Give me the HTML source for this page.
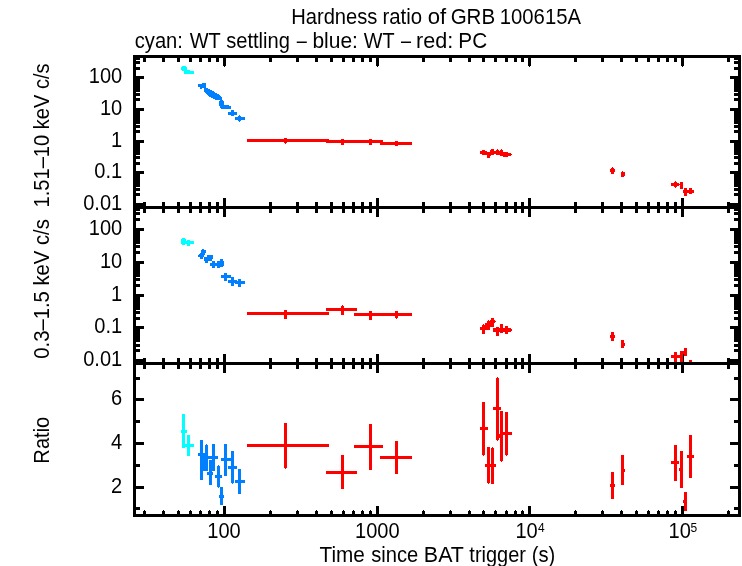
<!DOCTYPE html>
<html><head><meta charset="utf-8"><title>Hardness ratio of GRB 100615A</title>
<style>html,body{margin:0;padding:0;background:#fff}svg{display:block}text{font-family:"Liberation Sans",sans-serif;fill:#000}</style>
</head><body>
<svg width="742" height="566" viewBox="0 0 742 566">
<rect width="742" height="566" fill="#fff"/>
<g fill="#000" shape-rendering="crispEdges">
<rect x="133" y="55" width="3" height="462"/>
<rect x="738" y="55" width="3" height="462"/>
<rect x="133" y="55" width="608" height="3"/>
<rect x="133" y="206" width="608" height="3"/>
<rect x="133" y="362" width="608" height="3"/>
<rect x="133" y="514" width="608" height="3"/>
<rect x="143" y="58" width="3" height="4"/>
<rect x="143" y="202" width="3" height="11"/>
<rect x="143" y="358" width="3" height="11"/>
<rect x="143" y="511" width="3" height="3"/>
<rect x="144" y="510" width="1" height="1"/>
<rect x="162" y="58" width="3" height="4"/>
<rect x="162" y="202" width="3" height="11"/>
<rect x="162" y="358" width="3" height="11"/>
<rect x="162" y="511" width="3" height="3"/>
<rect x="163" y="510" width="1" height="1"/>
<rect x="177" y="58" width="3" height="4"/>
<rect x="177" y="202" width="3" height="11"/>
<rect x="177" y="358" width="3" height="11"/>
<rect x="177" y="511" width="3" height="3"/>
<rect x="178" y="510" width="1" height="1"/>
<rect x="189" y="58" width="3" height="4"/>
<rect x="189" y="202" width="3" height="11"/>
<rect x="189" y="358" width="3" height="11"/>
<rect x="189" y="511" width="3" height="3"/>
<rect x="190" y="510" width="1" height="1"/>
<rect x="199" y="58" width="3" height="4"/>
<rect x="199" y="202" width="3" height="11"/>
<rect x="199" y="358" width="3" height="11"/>
<rect x="199" y="511" width="3" height="3"/>
<rect x="200" y="510" width="1" height="1"/>
<rect x="208" y="58" width="3" height="4"/>
<rect x="208" y="202" width="3" height="11"/>
<rect x="208" y="358" width="3" height="11"/>
<rect x="208" y="511" width="3" height="3"/>
<rect x="209" y="510" width="1" height="1"/>
<rect x="216" y="58" width="3" height="4"/>
<rect x="216" y="202" width="3" height="11"/>
<rect x="216" y="358" width="3" height="11"/>
<rect x="216" y="511" width="3" height="3"/>
<rect x="217" y="510" width="1" height="1"/>
<rect x="223" y="58" width="3" height="8"/>
<rect x="224" y="66" width="1" height="1"/>
<rect x="223" y="198" width="3" height="19"/>
<rect x="223" y="354" width="3" height="19"/>
<rect x="223" y="506" width="3" height="8"/>
<rect x="269" y="58" width="3" height="4"/>
<rect x="269" y="202" width="3" height="11"/>
<rect x="269" y="358" width="3" height="11"/>
<rect x="269" y="511" width="3" height="3"/>
<rect x="270" y="510" width="1" height="1"/>
<rect x="296" y="58" width="3" height="4"/>
<rect x="296" y="202" width="3" height="11"/>
<rect x="296" y="358" width="3" height="11"/>
<rect x="296" y="511" width="3" height="3"/>
<rect x="297" y="510" width="1" height="1"/>
<rect x="315" y="58" width="3" height="4"/>
<rect x="315" y="202" width="3" height="11"/>
<rect x="315" y="358" width="3" height="11"/>
<rect x="315" y="511" width="3" height="3"/>
<rect x="316" y="510" width="1" height="1"/>
<rect x="330" y="58" width="3" height="4"/>
<rect x="330" y="202" width="3" height="11"/>
<rect x="330" y="358" width="3" height="11"/>
<rect x="330" y="511" width="3" height="3"/>
<rect x="331" y="510" width="1" height="1"/>
<rect x="342" y="58" width="3" height="4"/>
<rect x="342" y="202" width="3" height="11"/>
<rect x="342" y="358" width="3" height="11"/>
<rect x="342" y="511" width="3" height="3"/>
<rect x="343" y="510" width="1" height="1"/>
<rect x="352" y="58" width="3" height="4"/>
<rect x="352" y="202" width="3" height="11"/>
<rect x="352" y="358" width="3" height="11"/>
<rect x="352" y="511" width="3" height="3"/>
<rect x="353" y="510" width="1" height="1"/>
<rect x="361" y="58" width="3" height="4"/>
<rect x="361" y="202" width="3" height="11"/>
<rect x="361" y="358" width="3" height="11"/>
<rect x="361" y="511" width="3" height="3"/>
<rect x="362" y="510" width="1" height="1"/>
<rect x="369" y="58" width="3" height="4"/>
<rect x="369" y="202" width="3" height="11"/>
<rect x="369" y="358" width="3" height="11"/>
<rect x="369" y="511" width="3" height="3"/>
<rect x="370" y="510" width="1" height="1"/>
<rect x="376" y="58" width="3" height="8"/>
<rect x="377" y="66" width="1" height="1"/>
<rect x="376" y="198" width="3" height="19"/>
<rect x="376" y="354" width="3" height="19"/>
<rect x="376" y="506" width="3" height="8"/>
<rect x="422" y="58" width="3" height="4"/>
<rect x="422" y="202" width="3" height="11"/>
<rect x="422" y="358" width="3" height="11"/>
<rect x="422" y="511" width="3" height="3"/>
<rect x="423" y="510" width="1" height="1"/>
<rect x="449" y="58" width="3" height="4"/>
<rect x="449" y="202" width="3" height="11"/>
<rect x="449" y="358" width="3" height="11"/>
<rect x="449" y="511" width="3" height="3"/>
<rect x="450" y="510" width="1" height="1"/>
<rect x="468" y="58" width="3" height="4"/>
<rect x="468" y="202" width="3" height="11"/>
<rect x="468" y="358" width="3" height="11"/>
<rect x="468" y="511" width="3" height="3"/>
<rect x="469" y="510" width="1" height="1"/>
<rect x="482" y="58" width="3" height="4"/>
<rect x="482" y="202" width="3" height="11"/>
<rect x="482" y="358" width="3" height="11"/>
<rect x="482" y="511" width="3" height="3"/>
<rect x="483" y="510" width="1" height="1"/>
<rect x="494" y="58" width="3" height="4"/>
<rect x="494" y="202" width="3" height="11"/>
<rect x="494" y="358" width="3" height="11"/>
<rect x="494" y="511" width="3" height="3"/>
<rect x="495" y="510" width="1" height="1"/>
<rect x="505" y="58" width="3" height="4"/>
<rect x="505" y="202" width="3" height="11"/>
<rect x="505" y="358" width="3" height="11"/>
<rect x="505" y="511" width="3" height="3"/>
<rect x="506" y="510" width="1" height="1"/>
<rect x="514" y="58" width="3" height="4"/>
<rect x="514" y="202" width="3" height="11"/>
<rect x="514" y="358" width="3" height="11"/>
<rect x="514" y="511" width="3" height="3"/>
<rect x="515" y="510" width="1" height="1"/>
<rect x="521" y="58" width="3" height="4"/>
<rect x="521" y="202" width="3" height="11"/>
<rect x="521" y="358" width="3" height="11"/>
<rect x="521" y="511" width="3" height="3"/>
<rect x="522" y="510" width="1" height="1"/>
<rect x="528" y="58" width="3" height="8"/>
<rect x="529" y="66" width="1" height="1"/>
<rect x="528" y="198" width="3" height="19"/>
<rect x="528" y="354" width="3" height="19"/>
<rect x="528" y="506" width="3" height="8"/>
<rect x="574" y="58" width="3" height="4"/>
<rect x="574" y="202" width="3" height="11"/>
<rect x="574" y="358" width="3" height="11"/>
<rect x="574" y="511" width="3" height="3"/>
<rect x="575" y="510" width="1" height="1"/>
<rect x="601" y="58" width="3" height="4"/>
<rect x="601" y="202" width="3" height="11"/>
<rect x="601" y="358" width="3" height="11"/>
<rect x="601" y="511" width="3" height="3"/>
<rect x="602" y="510" width="1" height="1"/>
<rect x="620" y="58" width="3" height="4"/>
<rect x="620" y="202" width="3" height="11"/>
<rect x="620" y="358" width="3" height="11"/>
<rect x="620" y="511" width="3" height="3"/>
<rect x="621" y="510" width="1" height="1"/>
<rect x="635" y="58" width="3" height="4"/>
<rect x="635" y="202" width="3" height="11"/>
<rect x="635" y="358" width="3" height="11"/>
<rect x="635" y="511" width="3" height="3"/>
<rect x="636" y="510" width="1" height="1"/>
<rect x="647" y="58" width="3" height="4"/>
<rect x="647" y="202" width="3" height="11"/>
<rect x="647" y="358" width="3" height="11"/>
<rect x="647" y="511" width="3" height="3"/>
<rect x="648" y="510" width="1" height="1"/>
<rect x="657" y="58" width="3" height="4"/>
<rect x="657" y="202" width="3" height="11"/>
<rect x="657" y="358" width="3" height="11"/>
<rect x="657" y="511" width="3" height="3"/>
<rect x="658" y="510" width="1" height="1"/>
<rect x="666" y="58" width="3" height="4"/>
<rect x="666" y="202" width="3" height="11"/>
<rect x="666" y="358" width="3" height="11"/>
<rect x="666" y="511" width="3" height="3"/>
<rect x="667" y="510" width="1" height="1"/>
<rect x="674" y="58" width="3" height="4"/>
<rect x="674" y="202" width="3" height="11"/>
<rect x="674" y="358" width="3" height="11"/>
<rect x="674" y="511" width="3" height="3"/>
<rect x="675" y="510" width="1" height="1"/>
<rect x="681" y="58" width="3" height="8"/>
<rect x="682" y="66" width="1" height="1"/>
<rect x="681" y="198" width="3" height="19"/>
<rect x="681" y="354" width="3" height="19"/>
<rect x="681" y="506" width="3" height="8"/>
<rect x="727" y="58" width="3" height="4"/>
<rect x="727" y="202" width="3" height="11"/>
<rect x="727" y="358" width="3" height="11"/>
<rect x="727" y="511" width="3" height="3"/>
<rect x="728" y="510" width="1" height="1"/>
<rect x="136" y="204" width="4" height="3"/>
<rect x="734" y="204" width="4" height="3"/>
<rect x="136" y="203" width="8" height="3"/>
<rect x="730" y="203" width="8" height="3"/>
<rect x="136" y="193" width="4" height="3"/>
<rect x="734" y="193" width="4" height="3"/>
<rect x="136" y="188" width="4" height="3"/>
<rect x="734" y="188" width="4" height="3"/>
<rect x="136" y="184" width="4" height="3"/>
<rect x="734" y="184" width="4" height="3"/>
<rect x="136" y="181" width="4" height="3"/>
<rect x="734" y="181" width="4" height="3"/>
<rect x="136" y="178" width="4" height="3"/>
<rect x="734" y="178" width="4" height="3"/>
<rect x="136" y="176" width="4" height="3"/>
<rect x="734" y="176" width="4" height="3"/>
<rect x="136" y="174" width="4" height="3"/>
<rect x="734" y="174" width="4" height="3"/>
<rect x="136" y="173" width="4" height="3"/>
<rect x="734" y="173" width="4" height="3"/>
<rect x="136" y="171" width="8" height="3"/>
<rect x="730" y="171" width="8" height="3"/>
<rect x="136" y="162" width="4" height="3"/>
<rect x="734" y="162" width="4" height="3"/>
<rect x="136" y="156" width="4" height="3"/>
<rect x="734" y="156" width="4" height="3"/>
<rect x="136" y="152" width="4" height="3"/>
<rect x="734" y="152" width="4" height="3"/>
<rect x="136" y="149" width="4" height="3"/>
<rect x="734" y="149" width="4" height="3"/>
<rect x="136" y="147" width="4" height="3"/>
<rect x="734" y="147" width="4" height="3"/>
<rect x="136" y="144" width="4" height="3"/>
<rect x="734" y="144" width="4" height="3"/>
<rect x="136" y="143" width="4" height="3"/>
<rect x="734" y="143" width="4" height="3"/>
<rect x="136" y="141" width="4" height="3"/>
<rect x="734" y="141" width="4" height="3"/>
<rect x="136" y="140" width="8" height="3"/>
<rect x="730" y="140" width="8" height="3"/>
<rect x="136" y="130" width="4" height="3"/>
<rect x="734" y="130" width="4" height="3"/>
<rect x="136" y="125" width="4" height="3"/>
<rect x="734" y="125" width="4" height="3"/>
<rect x="136" y="121" width="4" height="3"/>
<rect x="734" y="121" width="4" height="3"/>
<rect x="136" y="118" width="4" height="3"/>
<rect x="734" y="118" width="4" height="3"/>
<rect x="136" y="115" width="4" height="3"/>
<rect x="734" y="115" width="4" height="3"/>
<rect x="136" y="113" width="4" height="3"/>
<rect x="734" y="113" width="4" height="3"/>
<rect x="136" y="111" width="4" height="3"/>
<rect x="734" y="111" width="4" height="3"/>
<rect x="136" y="109" width="4" height="3"/>
<rect x="734" y="109" width="4" height="3"/>
<rect x="136" y="108" width="8" height="3"/>
<rect x="730" y="108" width="8" height="3"/>
<rect x="136" y="98" width="4" height="3"/>
<rect x="734" y="98" width="4" height="3"/>
<rect x="136" y="93" width="4" height="3"/>
<rect x="734" y="93" width="4" height="3"/>
<rect x="136" y="89" width="4" height="3"/>
<rect x="734" y="89" width="4" height="3"/>
<rect x="136" y="86" width="4" height="3"/>
<rect x="734" y="86" width="4" height="3"/>
<rect x="136" y="83" width="4" height="3"/>
<rect x="734" y="83" width="4" height="3"/>
<rect x="136" y="81" width="4" height="3"/>
<rect x="734" y="81" width="4" height="3"/>
<rect x="136" y="79" width="4" height="3"/>
<rect x="734" y="79" width="4" height="3"/>
<rect x="136" y="78" width="4" height="3"/>
<rect x="734" y="78" width="4" height="3"/>
<rect x="136" y="76" width="8" height="3"/>
<rect x="730" y="76" width="8" height="3"/>
<rect x="136" y="67" width="4" height="3"/>
<rect x="734" y="67" width="4" height="3"/>
<rect x="136" y="61" width="4" height="3"/>
<rect x="734" y="61" width="4" height="3"/>
<rect x="136" y="57" width="4" height="3"/>
<rect x="734" y="57" width="4" height="3"/>
<rect x="136" y="361" width="4" height="3"/>
<rect x="734" y="361" width="4" height="3"/>
<rect x="136" y="359" width="8" height="3"/>
<rect x="730" y="359" width="8" height="3"/>
<rect x="136" y="349" width="4" height="3"/>
<rect x="734" y="349" width="4" height="3"/>
<rect x="136" y="344" width="4" height="3"/>
<rect x="734" y="344" width="4" height="3"/>
<rect x="136" y="339" width="4" height="3"/>
<rect x="734" y="339" width="4" height="3"/>
<rect x="136" y="336" width="4" height="3"/>
<rect x="734" y="336" width="4" height="3"/>
<rect x="136" y="334" width="4" height="3"/>
<rect x="734" y="334" width="4" height="3"/>
<rect x="136" y="332" width="4" height="3"/>
<rect x="734" y="332" width="4" height="3"/>
<rect x="136" y="330" width="4" height="3"/>
<rect x="734" y="330" width="4" height="3"/>
<rect x="136" y="328" width="4" height="3"/>
<rect x="734" y="328" width="4" height="3"/>
<rect x="136" y="326" width="8" height="3"/>
<rect x="730" y="326" width="8" height="3"/>
<rect x="136" y="317" width="4" height="3"/>
<rect x="734" y="317" width="4" height="3"/>
<rect x="136" y="311" width="4" height="3"/>
<rect x="734" y="311" width="4" height="3"/>
<rect x="136" y="307" width="4" height="3"/>
<rect x="734" y="307" width="4" height="3"/>
<rect x="136" y="304" width="4" height="3"/>
<rect x="734" y="304" width="4" height="3"/>
<rect x="136" y="301" width="4" height="3"/>
<rect x="734" y="301" width="4" height="3"/>
<rect x="136" y="299" width="4" height="3"/>
<rect x="734" y="299" width="4" height="3"/>
<rect x="136" y="297" width="4" height="3"/>
<rect x="734" y="297" width="4" height="3"/>
<rect x="136" y="295" width="4" height="3"/>
<rect x="734" y="295" width="4" height="3"/>
<rect x="136" y="294" width="8" height="3"/>
<rect x="730" y="294" width="8" height="3"/>
<rect x="136" y="284" width="4" height="3"/>
<rect x="734" y="284" width="4" height="3"/>
<rect x="136" y="278" width="4" height="3"/>
<rect x="734" y="278" width="4" height="3"/>
<rect x="136" y="274" width="4" height="3"/>
<rect x="734" y="274" width="4" height="3"/>
<rect x="136" y="271" width="4" height="3"/>
<rect x="734" y="271" width="4" height="3"/>
<rect x="136" y="268" width="4" height="3"/>
<rect x="734" y="268" width="4" height="3"/>
<rect x="136" y="266" width="4" height="3"/>
<rect x="734" y="266" width="4" height="3"/>
<rect x="136" y="264" width="4" height="3"/>
<rect x="734" y="264" width="4" height="3"/>
<rect x="136" y="262" width="4" height="3"/>
<rect x="734" y="262" width="4" height="3"/>
<rect x="136" y="261" width="8" height="3"/>
<rect x="730" y="261" width="8" height="3"/>
<rect x="136" y="251" width="4" height="3"/>
<rect x="734" y="251" width="4" height="3"/>
<rect x="136" y="245" width="4" height="3"/>
<rect x="734" y="245" width="4" height="3"/>
<rect x="136" y="241" width="4" height="3"/>
<rect x="734" y="241" width="4" height="3"/>
<rect x="136" y="238" width="4" height="3"/>
<rect x="734" y="238" width="4" height="3"/>
<rect x="136" y="235" width="4" height="3"/>
<rect x="734" y="235" width="4" height="3"/>
<rect x="136" y="233" width="4" height="3"/>
<rect x="734" y="233" width="4" height="3"/>
<rect x="136" y="231" width="4" height="3"/>
<rect x="734" y="231" width="4" height="3"/>
<rect x="136" y="230" width="4" height="3"/>
<rect x="734" y="230" width="4" height="3"/>
<rect x="136" y="228" width="8" height="3"/>
<rect x="730" y="228" width="8" height="3"/>
<rect x="136" y="218" width="4" height="3"/>
<rect x="734" y="218" width="4" height="3"/>
<rect x="136" y="212" width="4" height="3"/>
<rect x="734" y="212" width="4" height="3"/>
<rect x="136" y="208" width="4" height="3"/>
<rect x="734" y="208" width="4" height="3"/>
<rect x="136" y="377" width="4" height="3"/>
<rect x="734" y="377" width="4" height="3"/>
<rect x="136" y="398" width="8" height="3"/>
<rect x="730" y="398" width="8" height="3"/>
<rect x="136" y="420" width="4" height="3"/>
<rect x="734" y="420" width="4" height="3"/>
<rect x="136" y="442" width="8" height="3"/>
<rect x="730" y="442" width="8" height="3"/>
<rect x="136" y="464" width="4" height="3"/>
<rect x="734" y="464" width="4" height="3"/>
<rect x="136" y="486" width="8" height="3"/>
<rect x="730" y="486" width="8" height="3"/>
<rect x="136" y="507" width="4" height="3"/>
<rect x="734" y="507" width="4" height="3"/>
</g>
<g fill="#00ffff" shape-rendering="crispEdges">
<rect x="182" y="66" width="4" height="5"/>
<rect x="181" y="67" width="6" height="3"/>
<rect x="184" y="71" width="10" height="3"/>
<rect x="186" y="70" width="4" height="1"/>
<rect x="181" y="239" width="5" height="5"/>
<rect x="182" y="238" width="3" height="7"/>
<rect x="185" y="241" width="9" height="3"/>
<rect x="187" y="240" width="3" height="6"/>
<rect x="182" y="414" width="3" height="34"/>
<rect x="181" y="430" width="6" height="3"/>
<rect x="187" y="435" width="3" height="21"/>
<rect x="184" y="444" width="10" height="3"/>
</g>
<g fill="#0080ff" shape-rendering="crispEdges">
<rect x="198" y="84" width="8" height="3"/>
<rect x="202" y="83" width="4" height="5"/>
<rect x="200" y="87" width="2" height="2"/>
<polygon points="204,88 207,88 213,91 218,94 222,97 222,100 216,100 210,97 204,92"/>
<rect x="219" y="101" width="5" height="5"/>
<rect x="220" y="100" width="3" height="1"/>
<rect x="220" y="106" width="4" height="2"/>
<rect x="221" y="105" width="8" height="4"/>
<rect x="229" y="106" width="2" height="3"/>
<rect x="228" y="112" width="9" height="3"/>
<rect x="231" y="110" width="3" height="6"/>
<rect x="235" y="117" width="10" height="3"/>
<rect x="238" y="116" width="3" height="5"/>
<rect x="239" y="115" width="1" height="7"/>
<rect x="202" y="249" width="2" height="1"/>
<rect x="201" y="250" width="5" height="3"/>
<rect x="200" y="253" width="5" height="1"/>
<rect x="199" y="254" width="6" height="1"/>
<rect x="198" y="255" width="6" height="2"/>
<rect x="200" y="257" width="3" height="2"/>
<rect x="207" y="255" width="6" height="4"/>
<rect x="204" y="257" width="8" height="4"/>
<rect x="205" y="261" width="3" height="2"/>
<rect x="220" y="259" width="3" height="2"/>
<rect x="217" y="261" width="7" height="5"/>
<rect x="212" y="261" width="3" height="7"/>
<rect x="210" y="263" width="14" height="3"/>
<rect x="217" y="266" width="3" height="2"/>
<rect x="220" y="266" width="3" height="1"/>
<rect x="221" y="275" width="10" height="3"/>
<rect x="224" y="273" width="3" height="8"/>
<rect x="228" y="280" width="9" height="3"/>
<rect x="231" y="277" width="3" height="9"/>
<rect x="235" y="281" width="10" height="3"/>
<rect x="238" y="279" width="3" height="8"/>
<rect x="200" y="440" width="3" height="40"/>
<rect x="198" y="453" width="7" height="3"/>
<rect x="205" y="445" width="3" height="26"/>
<rect x="206" y="444" width="1" height="1"/>
<rect x="200" y="453" width="8" height="16"/>
<rect x="203" y="469" width="5" height="2"/>
<rect x="212" y="444" width="3" height="27"/>
<rect x="208" y="456" width="10" height="3"/>
<rect x="209" y="460" width="3" height="25"/>
<rect x="207" y="472" width="6" height="3"/>
<rect x="209" y="460" width="6" height="11"/>
<rect x="217" y="466" width="3" height="21"/>
<rect x="218" y="465" width="1" height="23"/>
<rect x="215" y="475" width="7" height="3"/>
<rect x="220" y="487" width="3" height="18"/>
<rect x="219" y="495" width="5" height="3"/>
<rect x="224" y="444" width="3" height="32"/>
<rect x="221" y="458" width="10" height="3"/>
<rect x="231" y="451" width="3" height="32"/>
<rect x="232" y="483" width="1" height="1"/>
<rect x="228" y="466" width="9" height="3"/>
<rect x="238" y="469" width="3" height="25"/>
<rect x="235" y="480" width="10" height="3"/>
</g>
<g fill="#ff0000" shape-rendering="crispEdges">
<rect x="247" y="139" width="82" height="3"/>
<rect x="284" y="138" width="3" height="5"/>
<rect x="285" y="143" width="1" height="1"/>
<rect x="326" y="140" width="57" height="3"/>
<rect x="341" y="139" width="3" height="6"/>
<rect x="369" y="139" width="3" height="6"/>
<rect x="380" y="142" width="32" height="3"/>
<rect x="395" y="141" width="3" height="5"/>
<rect x="480" y="151" width="2" height="3"/>
<rect x="482" y="150" width="3" height="5"/>
<rect x="485" y="151" width="2" height="4"/>
<rect x="487" y="152" width="3" height="6"/>
<rect x="490" y="150" width="1" height="6"/>
<rect x="491" y="149" width="3" height="6"/>
<rect x="494" y="151" width="2" height="3"/>
<rect x="496" y="150" width="3" height="5"/>
<rect x="497" y="149" width="1" height="1"/>
<rect x="499" y="151" width="1" height="4"/>
<rect x="500" y="150" width="3" height="6"/>
<rect x="501" y="149" width="1" height="1"/>
<rect x="503" y="152" width="5" height="5"/>
<rect x="508" y="153" width="3" height="3"/>
<rect x="511" y="154" width="1" height="1"/>
<rect x="610" y="169" width="5" height="3"/>
<rect x="611" y="168" width="3" height="6"/>
<rect x="612" y="167" width="1" height="1"/>
<rect x="621" y="172" width="3" height="5"/>
<rect x="622" y="171" width="1" height="1"/>
<rect x="624" y="172" width="1" height="4"/>
<rect x="671" y="183" width="8" height="3"/>
<rect x="679" y="184" width="1" height="1"/>
<rect x="674" y="182" width="3" height="5"/>
<rect x="675" y="181" width="1" height="7"/>
<rect x="680" y="182" width="3" height="7"/>
<rect x="683" y="190" width="11" height="3"/>
<rect x="684" y="188" width="3" height="8"/>
<rect x="689" y="188" width="3" height="6"/>
<rect x="247" y="312" width="82" height="3"/>
<rect x="284" y="310" width="3" height="9"/>
<rect x="326" y="308" width="31" height="3"/>
<rect x="341" y="306" width="3" height="9"/>
<rect x="342" y="305" width="1" height="1"/>
<rect x="354" y="313" width="58" height="3"/>
<rect x="369" y="311" width="3" height="9"/>
<rect x="395" y="311" width="3" height="7"/>
<rect x="396" y="318" width="1" height="1"/>
<rect x="480" y="327" width="10" height="3"/>
<rect x="482" y="325" width="3" height="9"/>
<rect x="483" y="324" width="1" height="1"/>
<rect x="487" y="321" width="3" height="6"/>
<rect x="488" y="320" width="1" height="1"/>
<rect x="491" y="318" width="3" height="9"/>
<rect x="490" y="320" width="5" height="3"/>
<rect x="495" y="321" width="1" height="1"/>
<rect x="485" y="323" width="6" height="4"/>
<rect x="493" y="328" width="18" height="4"/>
<rect x="511" y="329" width="1" height="2"/>
<rect x="496" y="327" width="3" height="9"/>
<rect x="500" y="324" width="3" height="9"/>
<rect x="505" y="326" width="3" height="8"/>
<rect x="610" y="335" width="5" height="3"/>
<rect x="611" y="332" width="3" height="9"/>
<rect x="621" y="340" width="3" height="8"/>
<rect x="624" y="343" width="1" height="3"/>
<rect x="671" y="355" width="9" height="3"/>
<rect x="674" y="352" width="3" height="10"/>
<rect x="680" y="351" width="3" height="11"/>
<rect x="684" y="348" width="3" height="8"/>
<rect x="683" y="351" width="1" height="3"/>
<rect x="689" y="360" width="3" height="2"/>
<rect x="247" y="444" width="82" height="3"/>
<rect x="284" y="423" width="3" height="45"/>
<rect x="285" y="468" width="1" height="1"/>
<rect x="326" y="471" width="31" height="3"/>
<rect x="341" y="455" width="3" height="34"/>
<rect x="354" y="445" width="29" height="3"/>
<rect x="369" y="424" width="3" height="46"/>
<rect x="380" y="456" width="32" height="3"/>
<rect x="395" y="441" width="3" height="33"/>
<rect x="482" y="402" width="3" height="53"/>
<rect x="483" y="455" width="1" height="1"/>
<rect x="480" y="427" width="8" height="3"/>
<rect x="487" y="447" width="3" height="36"/>
<rect x="488" y="483" width="1" height="1"/>
<rect x="491" y="448" width="3" height="36"/>
<rect x="492" y="447" width="1" height="1"/>
<rect x="485" y="464" width="11" height="3"/>
<rect x="496" y="378" width="3" height="62"/>
<rect x="497" y="377" width="1" height="64"/>
<rect x="493" y="407" width="8" height="3"/>
<rect x="500" y="411" width="3" height="50"/>
<rect x="501" y="461" width="1" height="1"/>
<rect x="498" y="434" width="5" height="4"/>
<rect x="505" y="412" width="3" height="43"/>
<rect x="506" y="455" width="1" height="1"/>
<rect x="502" y="432" width="10" height="3"/>
<rect x="611" y="472" width="3" height="27"/>
<rect x="610" y="484" width="5" height="3"/>
<rect x="621" y="455" width="3" height="30"/>
<rect x="621" y="469" width="4" height="3"/>
<rect x="674" y="445" width="3" height="36"/>
<rect x="671" y="461" width="8" height="3"/>
<rect x="680" y="451" width="3" height="37"/>
<rect x="679" y="468" width="4" height="3"/>
<rect x="689" y="435" width="3" height="43"/>
<rect x="687" y="455" width="7" height="3"/>
<rect x="684" y="492" width="3" height="19"/>
<rect x="683" y="500" width="4" height="3"/>
</g>
<g opacity="0.999">
<text y="23.8" font-size="21.3"><tspan x="291.19" textLength="86.26" lengthAdjust="spacingAndGlyphs">Hardness</tspan> <tspan x="382.47" textLength="39.63" lengthAdjust="spacingAndGlyphs">ratio</tspan> <tspan x="427.76" textLength="18.46" lengthAdjust="spacingAndGlyphs">of</tspan> <tspan x="450.64" textLength="44.48" lengthAdjust="spacingAndGlyphs">GRB</tspan> <tspan x="499.77" textLength="81.26" lengthAdjust="spacingAndGlyphs">100615A</tspan></text>
<text y="47.8" font-size="21.3"><tspan x="134.75" textLength="48.15" lengthAdjust="spacingAndGlyphs">cyan:</tspan> <tspan x="189.67" textLength="30.68" lengthAdjust="spacingAndGlyphs">WT</tspan> <tspan x="226.19" textLength="63.71" lengthAdjust="spacingAndGlyphs">settling</tspan> <tspan x="296.80" textLength="10.09" lengthAdjust="spacingAndGlyphs">–</tspan> <tspan x="312.42" textLength="45.49" lengthAdjust="spacingAndGlyphs">blue:</tspan> <tspan x="363.87" textLength="30.47" lengthAdjust="spacingAndGlyphs">WT</tspan> <tspan x="401.00" textLength="10.09" lengthAdjust="spacingAndGlyphs">–</tspan> <tspan x="415.98" textLength="37.20" lengthAdjust="spacingAndGlyphs">red:</tspan> <tspan x="458.30" textLength="28.83" lengthAdjust="spacingAndGlyphs">PC</tspan></text>
<text y="561.8" font-size="21.3"><tspan x="319.51" textLength="45.31" lengthAdjust="spacingAndGlyphs">Time</tspan> <tspan x="371.19" textLength="47.03" lengthAdjust="spacingAndGlyphs">since</tspan> <tspan x="423.86" textLength="39.63" lengthAdjust="spacingAndGlyphs">BAT</tspan> <tspan x="469.37" textLength="56.59" lengthAdjust="spacingAndGlyphs">trigger</tspan> <tspan x="531.81" textLength="23.56" lengthAdjust="spacingAndGlyphs">(s)</tspan></text>
<text transform="translate(224,538) scale(0.924,1)" text-anchor="middle" font-size="21.7">100</text>
<text transform="translate(377.3,538) scale(0.924,1)" text-anchor="middle" font-size="21.7">1000</text>
<text transform="translate(515.4,538) scale(0.924,1)" text-anchor="start" font-size="21.7">10</text>
<text transform="translate(538,532) scale(0.924,1)" text-anchor="start" font-size="13">4</text>
<text transform="translate(668.6,538) scale(0.924,1)" text-anchor="start" font-size="21.7">10</text>
<text transform="translate(690.5,532) scale(0.924,1)" text-anchor="start" font-size="13">5</text>
<text transform="translate(122.2,83) scale(0.924,1)" text-anchor="end" font-size="21.7">100</text>
<text transform="translate(122.2,115) scale(0.924,1)" text-anchor="end" font-size="21.7">10</text>
<text transform="translate(122.2,146.7) scale(0.924,1)" text-anchor="end" font-size="21.7">1</text>
<text transform="translate(122.2,178.3) scale(0.924,1)" text-anchor="end" font-size="21.7">0.1</text>
<text transform="translate(122.2,210) scale(0.924,1)" text-anchor="end" font-size="21.7">0.01</text>
<text transform="translate(122.2,235) scale(0.924,1)" text-anchor="end" font-size="21.7">100</text>
<text transform="translate(122.2,268) scale(0.924,1)" text-anchor="end" font-size="21.7">10</text>
<text transform="translate(122.2,300.8) scale(0.924,1)" text-anchor="end" font-size="21.7">1</text>
<text transform="translate(122.2,333.2) scale(0.924,1)" text-anchor="end" font-size="21.7">0.1</text>
<text transform="translate(122.2,366) scale(0.924,1)" text-anchor="end" font-size="21.7">0.01</text>
<text transform="translate(122.2,405) scale(0.924,1)" text-anchor="end" font-size="21.7">6</text>
<text transform="translate(122.2,449) scale(0.924,1)" text-anchor="end" font-size="21.7">4</text>
<text transform="translate(122.2,493) scale(0.924,1)" text-anchor="end" font-size="21.7">2</text>
<text transform="translate(49.2,206) rotate(-90) scale(0.9435,1)" x="-1.50" font-size="21.3">1.51–10 keV c/s</text>
<text transform="translate(49.2,358) rotate(-90) scale(0.9515,1)" x="-0.75" font-size="21.3">0.3–1.5 keV c/s</text>
<text transform="translate(49.2,462) rotate(-90) scale(0.9447,1)" x="-1.75" font-size="21.3">Ratio</text>
</g>
</svg>
</body></html>
